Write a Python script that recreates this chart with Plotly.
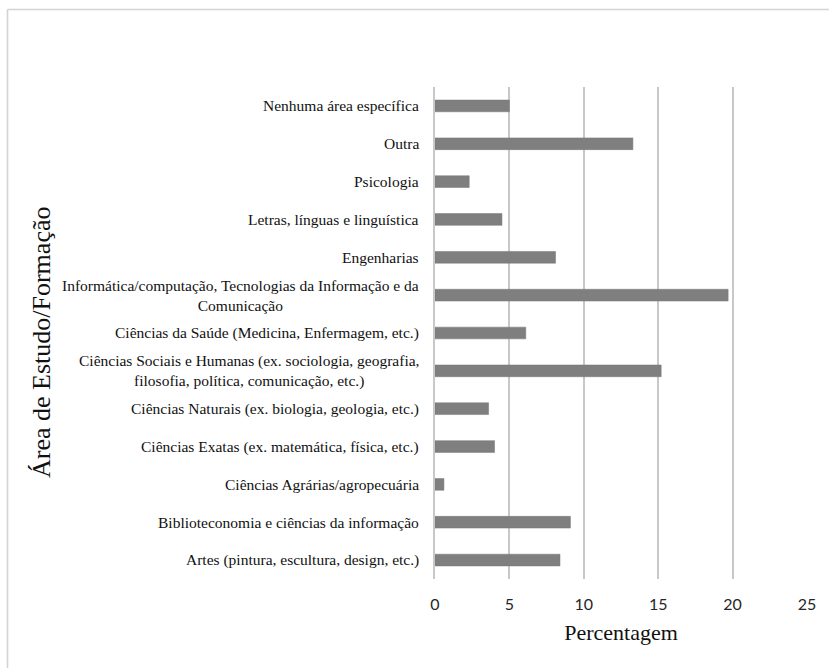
import plotly.graph_objects as go

# Study areas, listed top to bottom
areas = [
    "Nenhuma área específica",
    "Outra",
    "Psicologia",
    "Letras, línguas e linguística",
    "Engenharias",
    "Informática/computação, Tecnologias da Informação e da<br>Comunicação",
    "Ciências da Saúde (Medicina, Enfermagem, etc.)",
    "Ciências Sociais e Humanas (ex. sociologia, geografia,<br>filosofia, política, comunicação, etc.)",
    "Ciências Naturais (ex. biologia, geologia, etc.)",
    "Ciências Exatas (ex. matemática, física, etc.)",
    "Ciências Agrárias/agropecuária",
    "Biblioteconomia e ciências da informação",
    "Artes (pintura, escultura, design, etc.)",
]

# Share of respondents (%)
percent = [5.0, 13.3, 2.3, 4.5, 8.1, 19.7, 6.1, 15.2, 3.6, 4.0, 0.6, 9.1, 8.4]

x_ticks = [0, 5, 10, 15, 20, 25]

serif = "Liberation Serif"
sans = "Lato"
grid = "#c8c8c8"
frame = "#d4d4d4"

# Plot area in pixels: left 435, right 807, top 87, bottom 579
PL, PR, PT, PB = 435, 807, 87, 579
PW, PH = PR - PL, PB - PT


def px(x):
    return (x - PL) / PW


def py(y):
    return (PB - y) / PH


fig = go.Figure(
    go.Bar(
        x=percent,
        y=areas,
        orientation="h",
        marker=dict(color="#7f7f7f", line=dict(color="#767676", width=0.5)),
        hoverinfo="x+y",
    )
)

# Category labels, centred line by line to the left of the axis
for a in areas:
    fig.add_annotation(
        x=0, xref="paper", xanchor="right", xshift=-14,
        y=a, yref="y", yanchor="middle",
        text=a, align="center", showarrow=False,
        font=dict(family=serif, size=15.5, color="#111111"),
    )

# Vertical axis title
fig.add_annotation(
    x=px(41), xref="paper", xanchor="center",
    y=py(343), yref="paper", yanchor="middle",
    text="Área de Estudo/Formação", textangle=-90, showarrow=False,
    font=dict(family=serif, size=26, color="#111111"),
)

# Light frame along the top and left edges of the figure
fig.add_shape(type="line", xref="paper", yref="paper",
              x0=px(7.5), x1=px(829), y0=py(9.5), y1=py(9.5),
              line=dict(color=frame, width=1.6))
fig.add_shape(type="line", xref="paper", yref="paper",
              x0=px(7.5), x1=px(7.5), y0=py(9.5), y1=py(668),
              line=dict(color=frame, width=1.6))

fig.update_layout(
    width=829,
    height=668,
    margin=dict(l=PL, r=829 - PR, t=PT, b=668 - PB),
    paper_bgcolor="white",
    plot_bgcolor="white",
    bargap=0.69,
    showlegend=False,
    xaxis=dict(
        range=[0, 25],
        tickvals=x_ticks,
        ticktext=[str(v) for v in x_ticks],
        showgrid=True,
        gridcolor=grid,
        gridwidth=1.6,
        zeroline=False,
        showline=False,
        ticks="",
        ticklabelstandoff=14,
        tickfont=dict(family=sans, size=16, color="#262626"),
        title=dict(text="Percentagem",
                   font=dict(family=serif, size=22, color="#111111"),
                   standoff=12),
        fixedrange=True,
    ),
    yaxis=dict(
        autorange="reversed",
        showticklabels=False,
        showgrid=False,
        zeroline=False,
        showline=True,
        linecolor=grid,
        linewidth=1.6,
        ticks="",
        fixedrange=True,
    ),
)

fig.write_html("out.html")
